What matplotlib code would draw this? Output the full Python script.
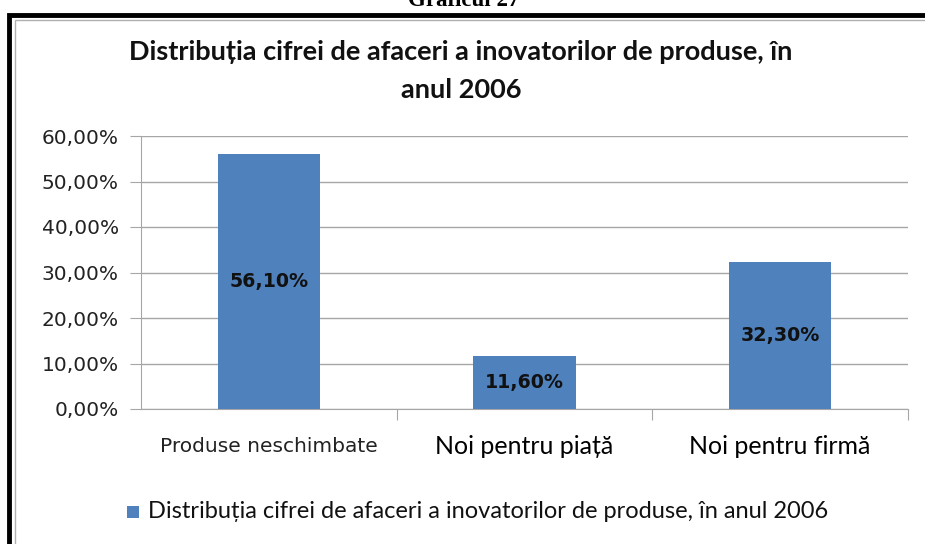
import matplotlib
matplotlib.use("Agg")
import matplotlib.pyplot as plt
from matplotlib.patches import Rectangle
from matplotlib.ticker import FuncFormatter

categories = ["Produse neschimbate", "Noi pentru piață", "Noi pentru firmă"]
values = [0.561, 0.116, 0.323]
value_labels = ["56,10%", "11,60%", "32,30%"]
yticks = [0.0, 0.1, 0.2, 0.3, 0.4, 0.5, 0.6]
title = "Distribuția cifrei de afaceri a inovatorilor de produse, în\nanul 2006"
legend_label = "Distribuția cifrei de afaceri a inovatorilor de produse, în anul 2006"
header = "Graficul 27"

BLUE = "#4F81BD"
GRID = "#A6A6A6"

fig = plt.figure(figsize=(9.25, 5.44), dpi=100)
W, H = 925, 544

# outer frame (black thick + grey thin)
fig.patches.append(Rectangle((9 / W, -0.1), 1.2, (544 - 15) / H + 0.1, transform=fig.transFigure,
                             fill=False, edgecolor="black", linewidth=3.5, zorder=10))
fig.patches.append(Rectangle((14.5 / W, -0.1), 1.2, (544 - 19.5) / H + 0.1, transform=fig.transFigure,
                             fill=False, edgecolor="#B0B0B0", linewidth=1.0, zorder=10))

fig.text(464 / W, 1 - 1 / H, header, ha="center", va="center", fontsize=16.5,
         fontweight="bold", family="Liberation Serif")

ax = fig.add_axes([141 / W, 1 - 409 / H, 767 / W, 273 / H])
x = list(range(len(categories)))
ax.bar(x, values, width=0.4, color=BLUE, zorder=3)
ax.set_xlim(-0.5, 2.5)
ax.set_ylim(0, 0.6)
ax.set_yticks(yticks)
ax.yaxis.set_major_formatter(FuncFormatter(lambda v, p: f"{v*100:.2f}%".replace(".", ",")))
ax.grid(axis="y", color=GRID, linewidth=1.0, zorder=0)
for s in ["top", "right"]:
    ax.spines[s].set_visible(False)
ax.spines["left"].set_color(GRID)
ax.spines["bottom"].set_color(GRID)
ax.tick_params(axis="y", length=8, color=GRID, labelsize=14.5, pad=8, labelcolor="#222222")
ax.set_xticks([0.5, 1.5, 2.5])
ax.set_xticklabels([])
ax.tick_params(axis="x", length=8, color=GRID, direction="out")
for lbl in ax.get_yticklabels():
    lbl.set_family("DejaVu Sans")

for xi, v, t in zip(x, values, value_labels):
    ax.text(xi, v / 2, t, ha="center", va="center", fontsize=13.7, fontweight="bold",
            family="DejaVu Sans", color="#111111", zorder=4)

# category labels
cat_styles = [dict(family="DejaVu Sans", fontsize=14.5, color="#222222"),
              dict(family="Lato", fontsize=18, color="black"),
              dict(family="Lato", fontsize=18, color="black")]
for xi, c, st in zip(x, categories, cat_styles):
    ax.text(xi, 1 - 447 / H, c, ha="center", va="center",
            transform=matplotlib.transforms.blended_transform_factory(ax.transData, fig.transFigure), **st)

fig.text(461 / W, 1 - 71 / H, title, ha="center", va="center", fontsize=19.5,
         fontweight="bold", family="Lato", linespacing=1.65, color="#111111")

# legend
fig.patches.append(Rectangle((127 / W, 1 - 518 / H), 12 / W, 12 / H, transform=fig.transFigure,
                             facecolor=BLUE, edgecolor="none"))
fig.text(148 / W, 1 - 512 / H, legend_label, ha="left", va="center", fontsize=17,
         family="Lato", color="#111111")

fig.savefig("out.png", dpi=100)
